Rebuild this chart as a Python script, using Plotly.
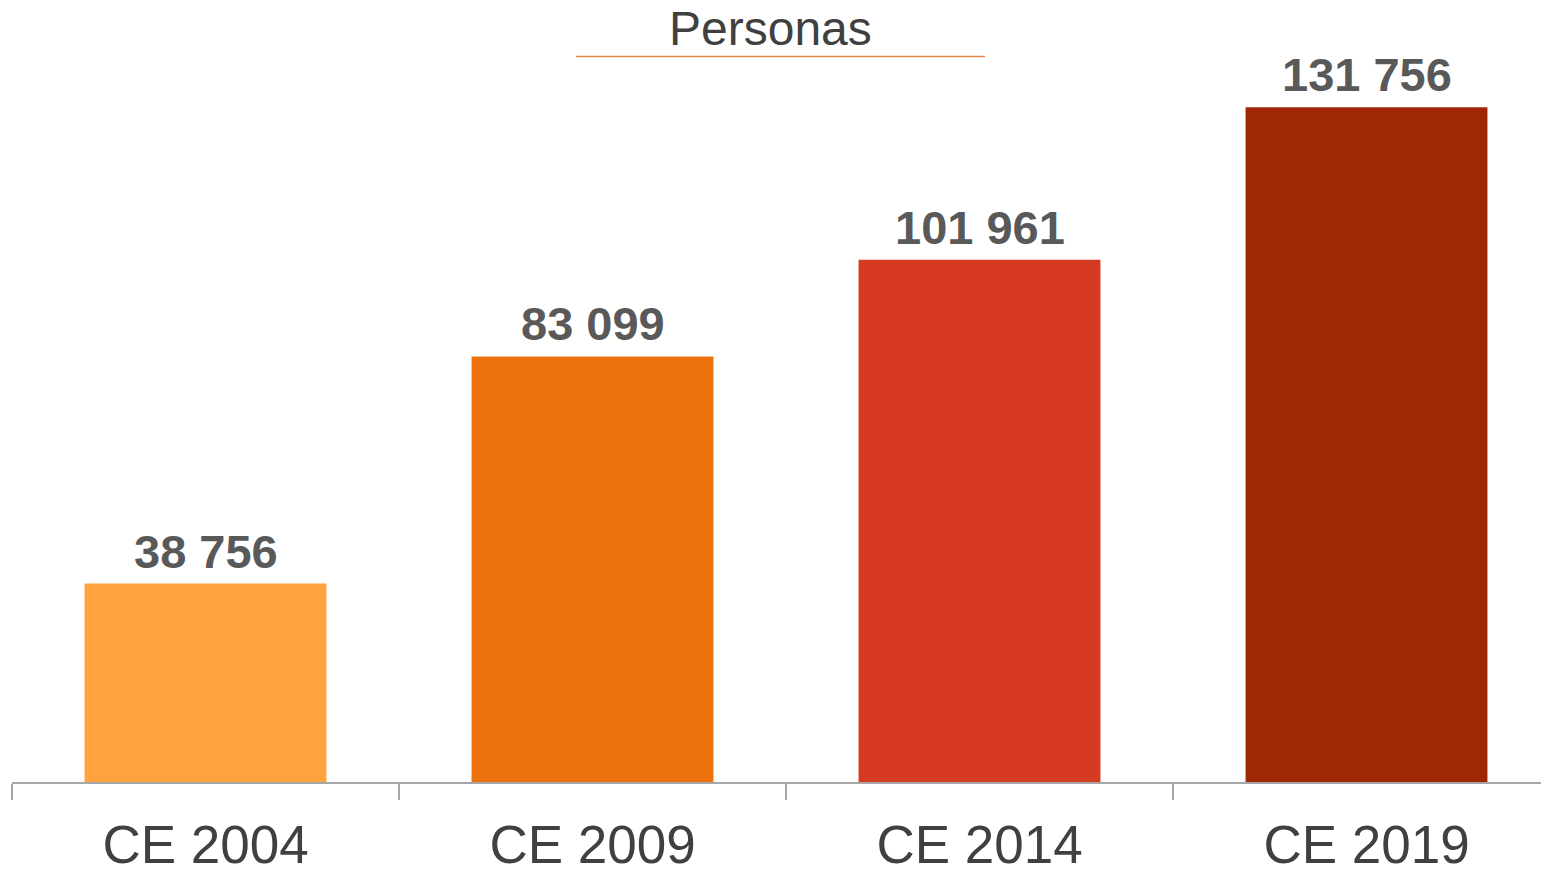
import plotly.graph_objects as go

categories = ["CE 2004", "CE 2009", "CE 2014", "CE 2019"]
values = [38756, 83099, 101961, 131756]
colors = ["#FFA33F", "#EC720E", "#D73A23", "#9E2806"]
title_text = "Personas"

# page body has an 8px margin; figure sized to fit the window
W, H = 1541, 866
off = 8
ml, mb, mt = 12 - off, 86, 0
plot_w = W - ml
plot_h = H - mb - mt
cat_px = 387.0

def fmt(v):
    return f"{v:,}".replace(",", " ")

fig = go.Figure()
fig.add_trace(go.Bar(
    x=categories, y=values,
    marker=dict(color=colors, line=dict(width=0)),
    width=0.625,
    hoverinfo="skip",
))

for c, v in zip(categories, values):
    fig.add_annotation(
        x=c, y=v, xref="x", yref="y",
        text=f"<b>{fmt(v)}</b>", showarrow=False,
        yanchor="bottom", yshift=4,
        font=dict(family="Liberation Sans, Arial, sans-serif", size=47, color="#595959"),
    )

fig.add_annotation(
    x=(770 - 12) / plot_w, y=1 - (29 - off) / plot_h, xref="paper", yref="paper",
    text=title_text, showarrow=False, xanchor="center", yanchor="middle",
    borderpad=0,
    font=dict(family="Liberation Sans, Arial, sans-serif", size=48, color="#404040"),
)
fig.add_shape(
    type="line", xref="paper", yref="paper",
    x0=(576 - 12) / plot_w, x1=(985 - 12) / plot_w,
    y0=1 - (57 - off) / plot_h, y1=1 - (57 - off) / plot_h,
    line=dict(color="#E8884A", width=1.5),
)

ymax = max(values) * plot_h / 680.0
xmax = -0.5 + plot_w / cat_px

fig.update_layout(
    width=W, height=H,
    margin=dict(l=ml, r=0, t=mt, b=mb, pad=0),
    plot_bgcolor="white", paper_bgcolor="white",
    showlegend=False,
    bargap=0.375,
    xaxis=dict(
        type="category", range=[-0.5, xmax],
        showline=True, linecolor="#A6A6A6", linewidth=1.5,
        ticks="outside", ticklen=16, tickcolor="#A6A6A6", tickwidth=1.5,
        tickson="boundaries", ticklabelstandoff=16,
        tickfont=dict(family="Liberation Sans, Arial, sans-serif", size=53, color="#404040"),
        showgrid=False, zeroline=False,
    ),
    yaxis=dict(
        range=[0, ymax], visible=False, showgrid=False, zeroline=False,
    ),
)

fig.write_html("out.html")
